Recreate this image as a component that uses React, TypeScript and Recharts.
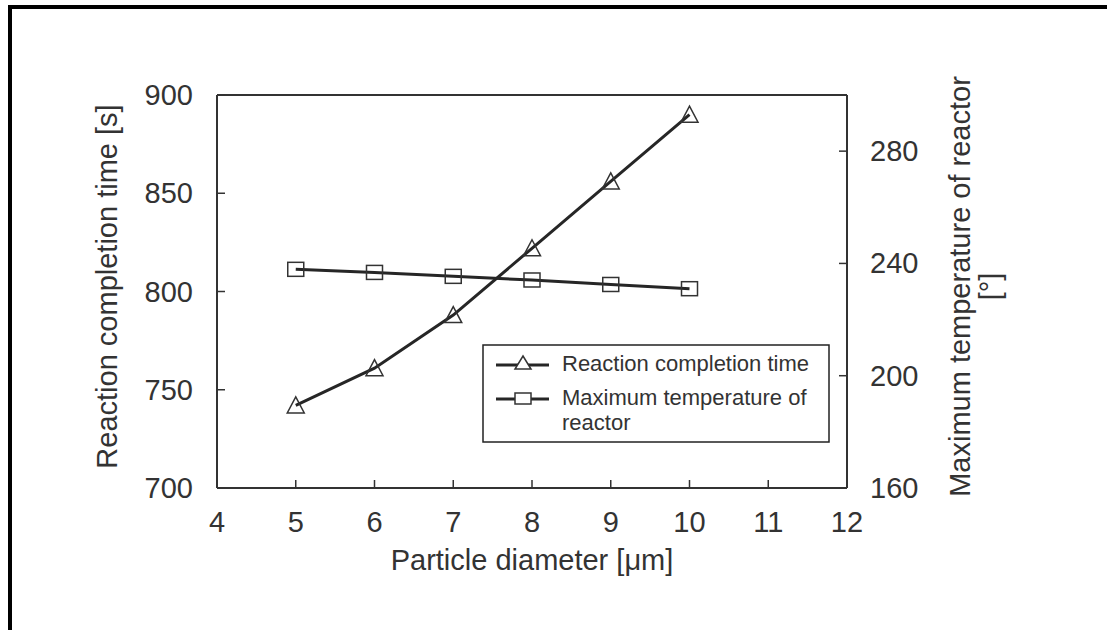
import React from "react";
import { LineChart, Line, XAxis, YAxis, Legend, ReferenceLine } from "recharts";

const diameters = [5, 6, 7, 8, 9, 10];
const completionTime = [742, 761, 788, 822, 856, 890];
const maxTemperature = [237.9, 236.8, 235.4, 234.1, 232.5, 231];

const xTicks = [4, 5, 6, 7, 8, 9, 10, 11, 12];
const leftTicks = [700, 750, 800, 850, 900];
const rightTicks = [160, 200, 240, 280];

const seriesNames = ["Reaction completion time", "Maximum temperature of reactor"];

const data = diameters.map((d, i) => ({
  d,
  time: completionTime[i],
  temp: maxTemperature[i],
}));

const FONT = "'Liberation Sans', Arial, Helvetica, sans-serif";
const INK = "#333";
const LINE = "#262626";
const FS = 29;

function XTick(props: any) {
  const { x, y, payload } = props;
  return (
    <g>
      <line x1={x} y1={y} x2={x} y2={y - 8} stroke={INK} strokeWidth={1.5} />
      <text x={x} y={y + 44} textAnchor="middle" fontSize={FS} fill={INK} fontFamily={FONT}>
        {payload.value}
      </text>
    </g>
  );
}

function LeftTick(props: any) {
  const { x, y, payload } = props;
  return (
    <g>
      <line x1={x + 24} y1={y} x2={x + 32} y2={y} stroke={INK} strokeWidth={1.5} />
      <text x={x} y={y + 10} textAnchor="end" fontSize={FS} fill={INK} fontFamily={FONT}>
        {payload.value}
      </text>
    </g>
  );
}

function RightTick(props: any) {
  const { x, y, payload } = props;
  return (
    <g>
      <line x1={x - 23} y1={y} x2={x - 31} y2={y} stroke={INK} strokeWidth={1.5} />
      <text x={x} y={y + 10} textAnchor="start" fontSize={FS} fill={INK} fontFamily={FONT}>
        {payload.value}
      </text>
    </g>
  );
}

function triangle(cx: number, cy: number, w: number, h: number) {
  return `M${cx},${cy - h / 2 - 1} L${cx + w / 2},${cy + h / 2} L${cx - w / 2},${cy + h / 2} Z`;
}

function TriangleDot(props: any) {
  const { cx, cy } = props;
  if (cx == null || cy == null) return null;
  return <path d={triangle(cx, cy, 17, 15)} fill="none" stroke={INK} strokeWidth={1.5} />;
}

function SquareDot(props: any) {
  const { cx, cy } = props;
  if (cx == null || cy == null) return null;
  return <rect x={cx - 8} y={cy - 7} width={16} height={14} fill="none" stroke={INK} strokeWidth={1.5} />;
}

function LegendBox() {
  const textStyle = { fontSize: 22, fill: INK, fontFamily: FONT };
  return (
    <svg width={348} height={99} style={{ display: "block" }}>
      <rect x={1} y={1} width={346} height={97} fill="#fff" stroke="#222" strokeWidth={1.5} />
      <line x1={14} y1={21} x2={67} y2={21} stroke={LINE} strokeWidth={3} />
      <path d={triangle(41, 19, 16, 12)} fill="#fff" stroke={INK} strokeWidth={1.5} />
      <text x={80} y={27} style={textStyle}>{seriesNames[0]}</text>
      <line x1={14} y1={55} x2={67} y2={55} stroke={LINE} strokeWidth={3} />
      <rect x={33} y={49} width={16} height={11} fill="#fff" stroke={INK} strokeWidth={1.5} />
      <text x={80} y={61} style={textStyle}>Maximum temperature of</text>
      <text x={80} y={86} style={textStyle}>reactor</text>
    </svg>
  );
}

export default function App() {
  return (
    <div style={{ position: "absolute", left: 0, top: 0, width: 1107, height: 630, background: "#fff", overflow: "hidden" }}>
      <div
        style={{
          position: "absolute",
          left: 8,
          top: 5,
          width: 1107,
          height: 630,
          borderLeft: "4px solid #000",
          borderTop: "4px solid #000",
        }}
      />
      <LineChart
        width={1107}
        height={630}
        data={data}
        margin={{ top: 95, right: 200, bottom: 82, left: 157 }}
        style={{ position: "absolute", left: 0, top: 0 }}
      >
        <XAxis
          dataKey="d"
          type="number"
          domain={[4, 12]}
          ticks={xTicks}
          interval={0}
          height={60}
          tickSize={0}
          tickMargin={0}
          tickLine={false}
          axisLine={{ stroke: INK, strokeWidth: 2 }}
          tick={<XTick />}
          label={{
            content: (p: any) => {
              const vb = p.viewBox;
              return (
                <text x={vb.x + vb.width / 2} y={vb.y + 82} textAnchor="middle" fontSize={FS} fill={INK} fontFamily={FONT}>
                  Particle diameter [μm]
                </text>
              );
            },
          }}
        />
        <YAxis
          yAxisId="left"
          orientation="left"
          type="number"
          domain={[700, 900]}
          ticks={leftTicks}
          interval={0}
          width={60}
          tickSize={0}
          tickMargin={24}
          tickLine={false}
          axisLine={{ stroke: INK, strokeWidth: 2 }}
          tick={<LeftTick />}
          label={{
            content: (p: any) => {
              const vb = p.viewBox;
              const x = vb.x - 40;
              const y = vb.y + vb.height / 2 - 5;
              return (
                <text x={x} y={y} transform={`rotate(-90, ${x}, ${y})`} textAnchor="middle" fontSize={FS} fill={INK} fontFamily={FONT}>
                  Reaction completion time [s]
                </text>
              );
            },
          }}
        />
        <YAxis
          yAxisId="right"
          orientation="right"
          type="number"
          domain={[160, 300]}
          ticks={rightTicks}
          interval={0}
          width={60}
          tickSize={0}
          tickMargin={23}
          tickLine={false}
          axisLine={{ stroke: INK, strokeWidth: 2 }}
          tick={<RightTick />}
          label={{
            content: (p: any) => {
              const vb = p.viewBox;
              const x1 = vb.x + 123;
              const x2 = vb.x + 153;
              const y = vb.y + vb.height / 2 - 5;
              return (
                <g>
                  <text x={x1} y={y} transform={`rotate(-90, ${x1}, ${y})`} textAnchor="middle" fontSize={FS} fill={INK} fontFamily={FONT}>
                    Maximum temperature of reactor
                  </text>
                  <text x={x2} y={y} transform={`rotate(-90, ${x2}, ${y})`} textAnchor="middle" fontSize={FS} fill={INK} fontFamily={FONT}>
                    [°]
                  </text>
                </g>
              );
            },
          }}
        />
        <ReferenceLine yAxisId="left" y={900} stroke={INK} strokeWidth={2} />
        <Line
          yAxisId="left"
          dataKey="time"
          name={seriesNames[0]}
          type="linear"
          stroke={LINE}
          strokeWidth={3}
          dot={(p: any) => <TriangleDot key={`t-${p.index}`} cx={p.cx} cy={p.cy} />}
          activeDot={false}
          isAnimationActive={false}
        />
        <Line
          yAxisId="right"
          dataKey="temp"
          name={seriesNames[1]}
          type="linear"
          stroke={LINE}
          strokeWidth={3}
          dot={(p: any) => <SquareDot key={`s-${p.index}`} cx={p.cx} cy={p.cy} />}
          activeDot={false}
          isAnimationActive={false}
        />
        <Legend
          layout="horizontal"
          verticalAlign="middle"
          align="center"
          wrapperStyle={{ position: "absolute", left: 482, top: 344, width: 348, height: 99 }}
          content={() => <LegendBox />}
        />
      </LineChart>
    </div>
  );
}
